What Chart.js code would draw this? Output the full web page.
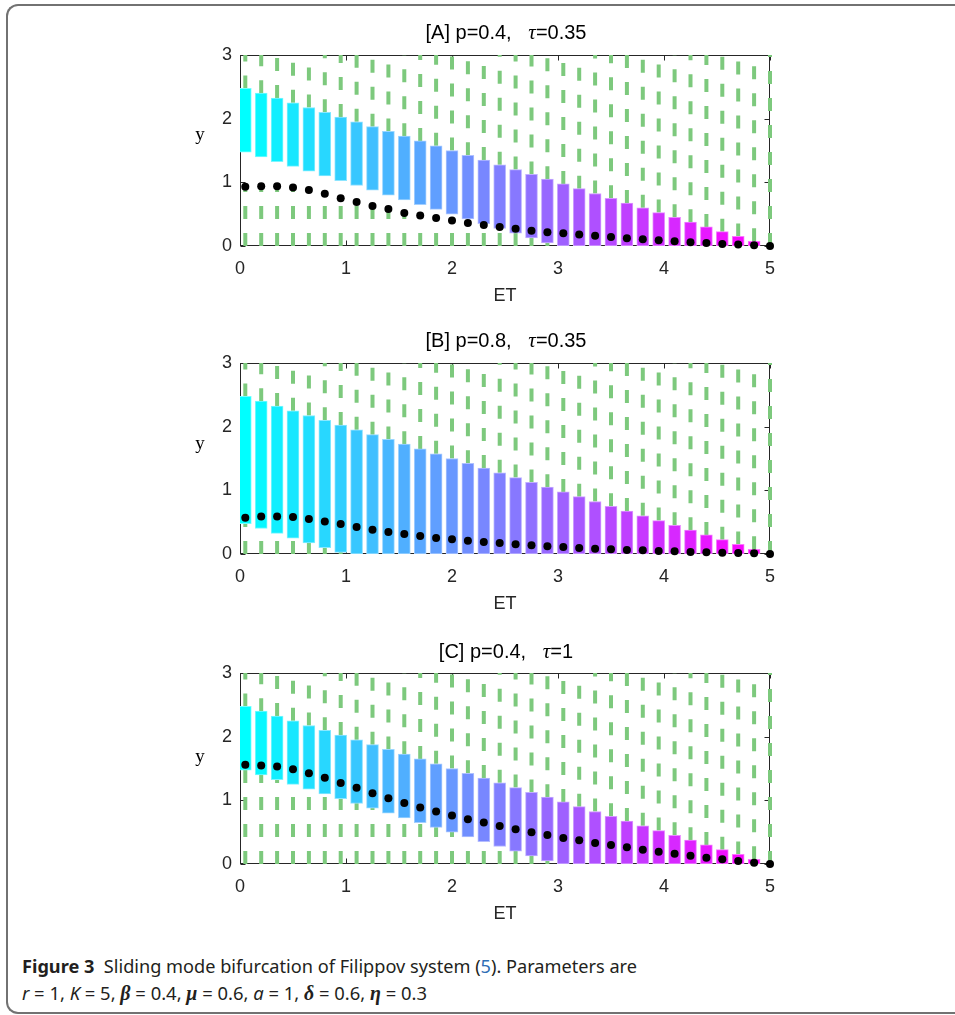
<!DOCTYPE html>
<html><head><meta charset="utf-8">
<script src="https://cdn.jsdelivr.net/npm/chart.js@4.4.0/dist/chart.umd.min.js"></script>
<style>
body{margin:0;width:955px;height:1015px;background:#fff;position:relative;overflow:hidden;font-family:"Liberation Sans",Arial,sans-serif;}
.frame{position:absolute;left:6px;top:4px;width:1000px;height:1006px;border:2px solid #727272;border-right:none;border-radius:12px 0 0 12px;}
.pc{position:absolute;left:0;width:955px;height:310px;}
.title{position:absolute;left:506px;transform:translate(-50%,-50%);font-size:20px;white-space:pre;color:#000;}
.tau{font-family:"Liberation Serif",serif;font-style:italic;font-size:21px;}
.ylab{position:absolute;left:200px;transform:translate(-50%,-50%);font-family:"Liberation Serif",serif;font-size:19px;color:#000;}
.cap{position:absolute;left:22px;font-family:"Noto Sans",sans-serif;font-size:18.5px;line-height:24px;white-space:pre;transform-origin:0 50%;color:#231f20;}
.cap .m{font-family:"Liberation Serif",serif;font-size:20px;}
</style>
</head><body>
<div class="frame"></div>

<div class="pc" style="top:0px"><canvas id="cA" width="955" height="310"></canvas></div>
<div class="pc" style="top:308px"><canvas id="cB" width="955" height="310"></canvas></div>
<div class="pc" style="top:618px"><canvas id="cC" width="955" height="310"></canvas></div>

<div class="title" style="top:32px">[A] p=0.4,   <span class="tau">τ</span>=0.35</div>
<div class="title" style="top:340px">[B] p=0.8,   <span class="tau">τ</span>=0.35</div>
<div class="title" style="top:651px">[C] p=0.4,   <span class="tau">τ</span>=1</div>
<div class="ylab" style="top:134px">y</div>
<div class="ylab" style="top:443px">y</div>
<div class="ylab" style="top:756px">y</div>

<div class="cap" id="cap1" style="top:954px"><b>Figure 3</b>  Sliding mode bifurcation of Filippov system (<span style="color:#2f6eb5">5</span>). Parameters are</div>
<div class="cap" id="cap2" style="top:981px"><i>r</i> = 1, <i>K</i> = 5, <b><i class="m">β</i></b> = 0.4, <b><i class="m">μ</i></b> = 0.6, <i>a</i> = 1, <b><i class="m">δ</i></b> = 0.6, <b><i class="m">η</i></b> = 0.3</div>

<script>
// ---- data ----
const ET = [0.05,0.2,0.35,0.5,0.65,0.8,0.95,1.1,1.25,1.4,1.55,1.7,1.85,2.0,2.15,2.3,2.45,2.6,2.75,2.9,3.05,3.2,3.35,3.5,3.65,3.8,3.95,4.1,4.25,4.4,4.55,4.7,4.85,5.0];
const barTop = [2.475,2.4,2.325,2.25,2.175,2.1,2.025,1.95,1.875,1.8,1.725,1.65,1.575,1.5,1.425,1.35,1.275,1.2,1.125,1.05,0.975,0.9,0.825,0.75,0.675,0.6,0.525,0.45,0.375,0.3,0.225,0.15,0.075,0];
const barLowA = [1.475,1.4,1.325,1.25,1.175,1.1,1.025,0.95,0.875,0.8,0.725,0.65,0.575,0.5,0.425,0.35,0.275,0.2,0.125,0.05,0,0,0,0,0,0,0,0,0,0,0,0,0,0];
const barLowB = [0.475,0.4,0.325,0.25,0.175,0.1,0.025,0,0,0,0,0,0,0,0,0,0,0,0,0,0,0,0,0,0,0,0,0,0,0,0,0,0,0];
const barLowC = [1.475,1.4,1.325,1.25,1.175,1.1,1.025,0.95,0.875,0.8,0.725,0.65,0.575,0.5,0.425,0.35,0.275,0.2,0.125,0.05,0,0,0,0,0,0,0,0,0,0,0,0,0,0];
const dotsA = [0.93,0.94,0.94,0.92,0.88,0.82,0.75,0.69,0.63,0.58,0.52,0.48,0.44,0.40,0.36,0.33,0.30,0.27,0.24,0.215,0.20,0.18,0.16,0.14,0.12,0.105,0.09,0.075,0.06,0.047,0.033,0.022,0.012,0];
const dotsB = [0.57,0.59,0.59,0.58,0.55,0.51,0.47,0.425,0.38,0.345,0.315,0.283,0.252,0.231,0.209,0.189,0.173,0.152,0.137,0.121,0.110,0.094,0.083,0.074,0.063,0.058,0.047,0.042,0.031,0.027,0.020,0.016,0.011,0];
const dotsC = [1.557,1.547,1.531,1.49,1.427,1.353,1.274,1.196,1.112,1.033,0.96,0.886,0.823,0.76,0.703,0.65,0.598,0.546,0.498,0.456,0.409,0.373,0.33,0.299,0.262,0.225,0.194,0.162,0.131,0.099,0.074,0.047,0.02,0];
const xTicks = [0,1,2,3,4,5];
const yTicks = [0,1,2,3];
const Y_MAX = 3;

const GREEN = 'rgb(125,201,125)';
const AXIS = '#262626';

function barColor(k, n, a){
  const r = Math.round(255 * k / (n - 1));
  return a === undefined ? `rgb(${r},${255 - r},255)` :
    `rgb(${Math.round(r + (255 - r) * a)},${Math.round((255 - r) + r * a)},255)`;
}

function buildDatasets(low, dots){
  const ds = [];
  const n = 33;
  const bars = [], bg = [], bc = [];
  ET.forEach((x, k) => {
    if (barTop[k] > low[k]) {
      bars.push({x: x, y: [low[k], barTop[k]]});
      bg.push(barColor(k, n));
      bc.push(barColor(k, n, 0.45));
    }
  });
  ds.push({type: 'bar', data: bars, backgroundColor: bg, borderColor: bc, borderWidth: 1,
           borderSkipped: false, barThickness: 12, order: 1});
  ds.push({type: 'scatter', data: ET.map((x, k) => ({x: x, y: dots[k]})), pointRadius: 4,
           pointBackgroundColor: '#000', pointBorderWidth: 0, pointHoverRadius: 4, order: 0, clip: 8});
  ET.forEach((x, k) => {
    ds.push({type: 'line', data: [{x: x, y: barTop[k]}, {x: x, y: Y_MAX}], borderColor: GREEN, borderWidth: 4,
             borderDash: [13, 14], pointRadius: 0, order: 2, clip: 6, tension: 0});
    if (dots[k] > 0) {
      ds.push({type: 'line', data: [{x: x, y: 0}, {x: x, y: dots[k]}], borderColor: GREEN, borderWidth: 4,
               borderDash: [13, 14], pointRadius: 0, order: 2, clip: 6, tension: 0});
    }
  });
  return ds;
}

const boxPlugin = {
  id: 'box',
  beforeDatasetsDraw(chart){
    const {ctx, chartArea: a, scales: {x, y}} = chart;
    ctx.save();
    ctx.strokeStyle = AXIS;
    ctx.lineWidth = 1;
    const L = Math.round(a.left) + 0.5, R = Math.round(a.right) - 0.5;
    const T = Math.round(a.top) + 0.5, B = Math.round(a.bottom) - 0.5;
    ctx.strokeRect(L, T, R - L, B - T);
    ctx.beginPath();
    xTicks.forEach(v => {
      const px = Math.round(x.getPixelForValue(v)) + 0.5;
      ctx.moveTo(px, B); ctx.lineTo(px, B - 5);
      ctx.moveTo(px, T); ctx.lineTo(px, T + 5);
    });
    yTicks.forEach(v => {
      const py = Math.round(y.getPixelForValue(v)) + 0.5;
      ctx.moveTo(L, py); ctx.lineTo(L + 5, py);
      ctx.moveTo(R, py); ctx.lineTo(R - 5, py);
    });
    ctx.stroke();
    ctx.restore();
  }
};

function makeChart(id, low, dots){
  new Chart(document.getElementById(id), {
    type: 'bar',
    data: {datasets: buildDatasets(low, dots)},
    options: {
      responsive: false, animation: false, events: [],
      layout: {padding: {top: 55, right: 185, left: 0, bottom: 0}},
      plugins: {legend: {display: false}, tooltip: {enabled: false}, title: {display: false}},
      scales: {
        x: {type: 'linear', min: 0, max: 5, offset: false,
            grid: {display: false, drawTicks: false}, border: {display: false},
            afterBuildTicks: s => { s.ticks = xTicks.map(v => ({value: v})); },
            ticks: {padding: 12, color: AXIS, font: {family: 'Liberation Sans', size: 18}, maxRotation: 0},
            title: {display: true, text: 'ET', color: AXIS, font: {family: 'Liberation Sans', size: 18}, padding: {top: 0, bottom: 3}},
            afterFit: s => { s.height = 64; }},
        y: {type: 'linear', min: 0, max: Y_MAX,
            grid: {display: false, drawTicks: false}, border: {display: false},
            afterBuildTicks: s => { s.ticks = yTicks.map(v => ({value: v})); },
            ticks: {padding: 8, color: AXIS, font: {family: 'Liberation Sans', size: 18}},
            afterFit: s => { s.width = 240; }}
      }
    },
    plugins: [boxPlugin]
  });
}

makeChart('cA', barLowA, dotsA);
makeChart('cB', barLowB, dotsB);
makeChart('cC', barLowC, dotsC);

function fitWidth(id, target){
  const el = document.getElementById(id);
  const w = el.getBoundingClientRect().width;
  if (w > 0) el.style.transform = `scaleX(${target / w})`;
}
fitWidth('cap1', 615);
fitWidth('cap2', 405);
</script>
</body></html>
